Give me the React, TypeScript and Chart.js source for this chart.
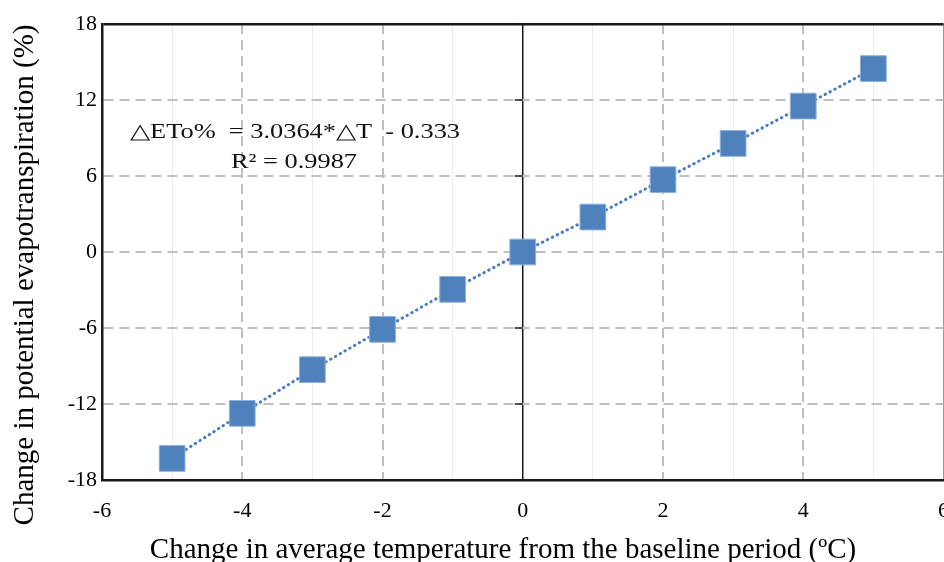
import { useEffect, useRef } from 'react';
import { Chart, registerables } from 'chart.js';

Chart.register(...registerables);

const tempChange = [-5, -4, -3, -2, -1, 0, 1, 2, 3, 4, 5];
const etoChange = [-16.3, -12.74, -9.29, -6.11, -2.95, 0, 2.76, 5.71, 8.57, 11.52, 14.48];
const xTickValues = [-6, -4, -2, 0, 2, 4, 6];
const yTickValues = [-18, -12, -6, 0, 6, 12, 18];
const equationLines = ['\u25B3ETo%  = 3.0364*\u25B3T  - 0.333', 'R\u00B2 = 0.9987'];
const xTitle = 'Change in average temperature from the baseline period (\u00BAC)';
const yTitle = 'Change in potential evapotranspiration (%)';

const FONT = '"Liberation Serif", "Times New Roman", serif';
const GRID = '#BFBFBF';
const MINOR = '#ECECEC';
const DARK = '#1A1A1A';
const TARGET_W = 944;
const TARGET_H = 562;

const annotationPlugin = {
  id: 'eqAnnotation',
  beforeDatasetsDraw(chart: any) {
    const { ctx, scales } = chart;
    const xs = scales.x;
    const ys = scales.y;
    const x0 = xs.getPixelForValue(0);
    ctx.save();
    ctx.strokeStyle = DARK;
    ctx.lineWidth = 1.5;
    for (const v of yTickValues) {
      const py = ys.getPixelForValue(v);
      ctx.beginPath();
      ctx.moveTo(x0 - 8, py);
      ctx.lineTo(x0, py);
      ctx.stroke();
    }
    ctx.restore();
  },
  afterDraw(chart: any) {
    const { ctx } = chart;
    ctx.save();
    ctx.fillStyle = '#000';
    ctx.textBaseline = 'alphabetic';
    ctx.textAlign = 'center';

    // axis titles
    ctx.font = `29px ${FONT}`;
    ctx.fillText(xTitle, 503, 558);
    ctx.save();
    ctx.translate(33, 275);
    ctx.rotate(-Math.PI / 2);
    ctx.fillText(yTitle, 0, 0);
    ctx.restore();

    // regression equation
    ctx.fillStyle = '#111';
    ctx.font = `21px ${FONT}`;
    const w1 = ctx.measureText(equationLines[0]).width;
    const sx = 330 / w1;
    ctx.save();
    ctx.translate(295, 138);
    ctx.scale(sx, 1);
    ctx.fillText(equationLines[0], 0, 0);
    ctx.restore();
    ctx.save();
    ctx.translate(294, 168);
    ctx.scale(sx, 1);
    ctx.fillText(equationLines[1], 0, 0);
    ctx.restore();
    ctx.restore();
  },
};

export default function App() {
  const canvasRef = useRef<HTMLCanvasElement | null>(null);

  useEffect(() => {
    document.body.style.margin = '0';
    const canvas = canvasRef.current;
    if (!canvas) return;
    const chart = new Chart(canvas, {
      type: 'scatter',
      data: {
        datasets: [
          {
            data: tempChange.map((x, i) => ({ x, y: etoChange[i] })),
            showLine: true,
            borderColor: '#4A7CC2',
            borderWidth: 3,
            borderDash: [0.5, 5],
            borderCapStyle: 'round',
            pointStyle: 'rect',
            pointRadius: 18.2,
            pointHoverRadius: 18.2,
            pointBackgroundColor: '#4F81BD',
            pointBorderColor: '#8EB1DC',
            pointBorderWidth: 1,
          } as any,
        ],
      },
      options: {
        responsive: false,
        maintainAspectRatio: false,
        animation: false,
        devicePixelRatio: 1,
        layout: { padding: { top: 24, right: 1, left: 0, bottom: 0 } },
        plugins: {
          legend: { display: false },
          tooltip: { enabled: false },
        },
        scales: {
          x: {
            type: 'linear',
            min: -6,
            max: 6,
            afterBuildTicks: (scale: any) => {
              scale.ticks = [];
              for (let v = -6; v <= 6; v++) scale.ticks.push({ value: v });
            },
            afterFit: (scale: any) => {
              scale.height = 82;
            },
            ticks: {
              autoSkip: false,
              maxRotation: 0,
              padding: 18,
              color: '#000',
              font: { family: FONT, size: 22 },
              callback: (v: any) => (xTickValues.includes(Number(v)) ? String(v) : ''),
            },
            grid: {
              drawTicks: false,
              color: (c: any) => {
                const v = c.tick ? c.tick.value : NaN;
                if (v === 0) return DARK;
                if (v === -6) return 'rgba(0,0,0,0)';
                if (v === 6) return '#9A9A9A';
                return Math.abs(v) % 2 === 1 ? MINOR : GRID;
              },
              lineWidth: (c: any) => {
                const v = c.tick ? c.tick.value : NaN;
                if (v === 0) return 1.5;
                if (v === 6) return 1;
                return Math.abs(v) % 2 === 1 ? 1 : 2;
              },
            },
            border: {
              display: true,
              color: DARK,
              width: 2.5,
              dash: (c: any) => {
                const v = c.tick ? c.tick.value : NaN;
                if (v === 0 || v === 6 || v === -6 || isNaN(v)) return [];
                return Math.abs(v) % 2 === 1 ? [] : [10, 6];
              },
            } as any,
            title: { display: false },
          },
          y: {
            type: 'linear',
            min: -18,
            max: 18,
            afterBuildTicks: (scale: any) => {
              scale.ticks = yTickValues.map((v) => ({ value: v }));
            },
            afterFit: (scale: any) => {
              scale.width = 102;
            },
            ticks: {
              padding: 5,
              color: '#000',
              font: { family: FONT, size: 22 },
              callback: (v: any) => String(v),
            },
            grid: {
              drawTicks: false,
              color: (c: any) => {
                const v = c.tick ? c.tick.value : NaN;
                if (v === 18) return DARK;
                if (v === -18) return 'rgba(0,0,0,0)';
                return GRID;
              },
              lineWidth: (c: any) => {
                const v = c.tick ? c.tick.value : NaN;
                return v === 18 ? 2.5 : 2;
              },
            },
            border: {
              display: true,
              color: DARK,
              width: 2.5,
              dash: (c: any) => {
                const v = c.tick ? c.tick.value : NaN;
                if (v === 18 || v === -18 || isNaN(v)) return [];
                return [10, 6];
              },
            } as any,
            title: { display: false },
          },
        },
      } as any,
      plugins: [annotationPlugin],
    });
    // widen the canvas (clipped by the container) so that the plot area reaches the right edge
    const extra = Math.round(TARGET_W - 1 - chart.chartArea.right);
    if (extra > 0) chart.resize(TARGET_W + extra, TARGET_H);
    return () => chart.destroy();
  }, []);

  return (
    <div
      style={{
        position: 'absolute',
        left: 0,
        top: 0,
        width: TARGET_W,
        height: TARGET_H,
        overflow: 'hidden',
        background: '#fff',
      }}
    >
      <canvas ref={canvasRef} width={TARGET_W} height={TARGET_H} />
    </div>
  );
}
